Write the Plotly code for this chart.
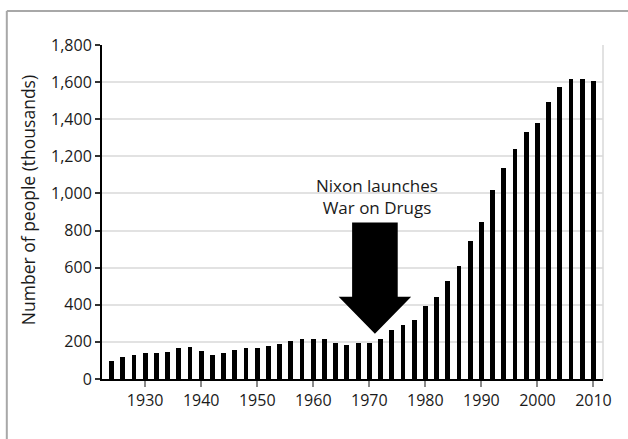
import plotly.graph_objects as go

# Prison population, every other year (thousands of people)
years = list(range(1924, 2011, 2))
people = [
    99, 120, 131, 140, 140, 147, 167, 174, 152, 131,
    140, 156, 169, 167, 180, 189, 205, 216, 216, 216,
    194, 185, 194, 196, 216, 264, 291, 318, 394, 442,
    528, 607, 746, 847, 1016, 1139, 1242, 1331, 1380, 1495,
    1571, 1618, 1618, 1607,
]

y_ticks = [0, 200, 400, 600, 800, 1000, 1200, 1400, 1600, 1800]
x_ticks = [1930, 1940, 1950, 1960, 1970, 1980, 1990, 2000, 2010]

NIXON_YEAR = 1971
annotation_text = "Nixon launches<br>War on Drugs"

FONT = "Open Sans"

fig = go.Figure(
    go.Bar(
        x=years,
        y=people,
        width=0.86,
        marker=dict(color="black", line=dict(width=0)),
        hoverinfo="x+y",
    )
)

# Block arrow pointing down at the 1971 bar
shaft_half, head_half = 4.07, 6.47
shaft_top, head_base, tip = 844, 443, 244
arrow_path = (
    f"M {NIXON_YEAR - shaft_half},{shaft_top} "
    f"L {NIXON_YEAR + shaft_half},{shaft_top} "
    f"L {NIXON_YEAR + shaft_half},{head_base} "
    f"L {NIXON_YEAR + head_half},{head_base} "
    f"L {NIXON_YEAR},{tip} "
    f"L {NIXON_YEAR - head_half},{head_base} "
    f"L {NIXON_YEAR - shaft_half},{head_base} Z"
)

shapes = [
    dict(type="path", path=arrow_path, xref="x", yref="y",
         fillcolor="black", line=dict(width=0)),
    # right edge of the plot area
    dict(type="line", xref="paper", yref="paper", x0=1, x1=1, y0=0, y1=1,
         line=dict(color="#d9d9d9", width=1.5)),
    # outer frame (top and left edges)
    dict(type="line", xref="paper", yref="paper", x0=-0.19, x1=1.06,
         y0=1.1018, y1=1.1018, line=dict(color="#a8a8a8", width=2)),
    dict(type="line", xref="paper", yref="paper", x0=-0.19, x1=-0.19,
         y0=1.1018, y1=-0.2, line=dict(color="#a8a8a8", width=2)),
]

fig.update_layout(
    width=628,
    height=439,
    margin=dict(l=102, r=25, t=45, b=60),
    paper_bgcolor="white",
    plot_bgcolor="white",
    showlegend=False,
    bargap=0,
    font=dict(family=FONT, size=15, color="#1a1a1a"),
    shapes=shapes,
    annotations=[
        dict(
            x=NIXON_YEAR + 0.3, y=985, xref="x", yref="y",
            text=annotation_text, showarrow=False,
            font=dict(family=FONT, size=17, color="#1a1a1a"),
            xanchor="center", yanchor="middle", align="center",
        ),
        dict(
            x=-0.148, y=0.535, xref="paper", yref="paper",
            text="Number of people (thousands)", showarrow=False,
            textangle=-90, font=dict(family=FONT, size=17.5, color="#1a1a1a"),
            xanchor="center", yanchor="middle",
        ),
    ],
)

fig.update_xaxes(
    range=[1922.3, 2011.7],
    tickmode="array",
    tickvals=x_ticks,
    ticktext=[str(t) for t in x_ticks],
    ticks="outside",
    ticklen=6,
    tickwidth=1.5,
    tickcolor="#8a8a8a",
    showline=True,
    linecolor="black",
    linewidth=2,
    showgrid=False,
    zeroline=False,
    tickfont=dict(family=FONT, size=16, color="#1a1a1a"),
)

fig.update_yaxes(
    range=[0, 1800],
    tickmode="array",
    tickvals=y_ticks,
    ticktext=[f"{t:,}" for t in y_ticks],
    ticks="outside",
    ticklen=5,
    tickwidth=1.5,
    tickcolor="#333333",
    showline=True,
    linecolor="black",
    linewidth=2,
    showgrid=True,
    gridcolor="#e2e2e2",
    gridwidth=1.5,
    zeroline=False,
    tickfont=dict(family=FONT, size=16, color="#1a1a1a"),
)

fig.write_html("out.html")
